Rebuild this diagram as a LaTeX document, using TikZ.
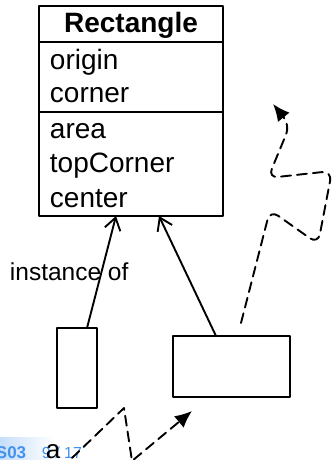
\documentclass[tikz,border=0pt]{standalone}
\usepackage{fontspec}
\setmainfont{Liberation Sans}
\usetikzlibrary{arrows.meta,positioning}
\definecolor{footblue}{RGB}{66,146,238}
\begin{document}
\begin{tikzpicture}[x=1pt,y=-1pt,line cap=round,line join=round,line width=1.9pt,
	part/.style={draw,minimum width=184pt,inner sep=0pt,outer sep=0pt},
	obj/.style={draw,inner sep=0pt,outer sep=0pt},
	member/.style={anchor=base west,inner sep=0pt,font=\fontsize{28}{33}\selectfont},
	isa/.style={-{Straight Barb[length=12pt,width=16pt,line width=1.9pt]}},
	flow/.style={dash pattern=on 10pt off 6pt,-{Latex[length=17pt,width=15pt]}}]
	\useasboundingbox (0,0) rectangle (334,460);
	% footer of the slide
	\shade[left color=footblue!30,right color=white] (0,437) rectangle (54,460);
	\node[anchor=base west,inner sep=0pt,text=footblue,font=\bfseries\fontsize{17}{17}\selectfont] (sec) at (-5,458) {S03};
	\node[anchor=base west,inner sep=0pt,text=footblue,font=\fontsize{16}{16}\selectfont] (page) at (41,458) {9 / 17};
	% class
	\node[part,minimum height=36pt] (head) at (131,24) {};
	\node[part,minimum height=70pt,below=0pt of head] (attrs) {};
	\node[part,minimum height=104pt,below=0pt of attrs] (ops) {};
	\node[anchor=base,inner sep=0pt,font=\bfseries\fontsize{28}{33}\selectfont] (name) at (131,33) {Rectangle};
	\node[member] (origin) at (49,69) {origin};
	\node[member] (corner) at (49,102) {corner};
	\node[member] (area) at (49,138) {area};
	\node[member] (top) at (49,172) {topCorner};
	\node[member] (center) at (49,207) {center};
	% objects
	\node[obj,minimum width=40pt,minimum height=80pt] (small) at (77,368) {};
	\node[obj,minimum width=117pt,minimum height=61pt] (wide) at (231.5,366.5) {};
	\draw[isa] ([xshift=10pt]small.north)--([xshift=-15pt]ops.south);
	\draw[isa] ([xshift=-15.5pt]wide.north)--([xshift=28pt]ops.south);
	\node[anchor=base west,inner sep=0pt,font=\fontsize{24.5}{28}\selectfont] (inst) at (9,280) {instance of};
	% messages
	\path (241,323)coordinate(P0) (273,104)coordinate(P1) (72,458)coordinate(Q0) (192,411)coordinate(Q1);
	\draw[flow,rounded corners=10pt] (P0)--(270,210)--(318,244)--(332,171)--(268,178)--(290,125)--(P1);
	\node[anchor=base west,inner sep=0pt,font=\fontsize{26}{28}\selectfont] (a) at (45,458) {a};
	\draw[flow] (Q0)--(124,408)--(132,461)--(Q1);
\end{tikzpicture}
\end{document}
